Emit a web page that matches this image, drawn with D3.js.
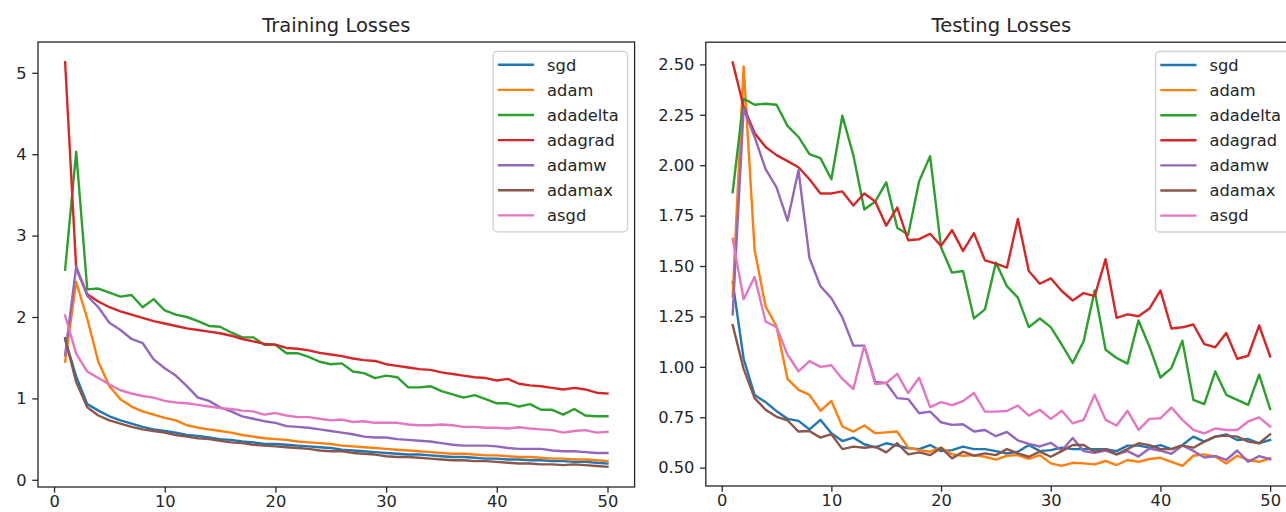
<!DOCTYPE html>
<html>
<head>
<meta charset="utf-8">
<script src="https://cdn.jsdelivr.net/npm/d3@7"></script>
<style>
  html, body { margin: 0; padding: 0; background: #ffffff; }
  svg { display: block; font-family: "DejaVu Sans", sans-serif; }
</style>
</head>
<body>
<svg id="chart" width="1286" height="512"></svg>
<script>
// ---------- data ----------
const epochs = [1,2,3,4,5,6,7,8,9,10,11,12,13,14,15,16,17,18,19,20,21,22,23,24,25,26,27,28,29,30,31,32,33,34,35,36,37,38,39,40,41,42,43,44,45,46,47,48,49,50];
const seriesNames = ["sgd", "adam", "adadelta", "adagrad", "adamw", "adamax", "asgd"];
const seriesColors = ["#1f77b4", "#ff7f0e", "#2ca02c", "#d62728", "#9467bd", "#8c564b", "#e377c2"];

const xTicks = [0, 10, 20, 30, 40, 50];
const trainYTicks = [0, 1, 2, 3, 4, 5];
const testYTicks = [0.50, 0.75, 1.00, 1.25, 1.50, 1.75, 2.00, 2.25, 2.50];

// Training losses
const trainSgd = [1.72,1.27,0.93,0.85,0.78,0.73,0.69,0.65,0.62,0.60,0.58,0.55,0.54,0.52,0.50,0.49,0.47,0.46,0.44,0.44,0.43,0.42,0.41,0.40,0.39,0.37,0.36,0.35,0.34,0.33,0.32,0.31,0.31,0.30,0.29,0.28,0.28,0.27,0.26,0.26,0.25,0.25,0.24,0.24,0.23,0.23,0.22,0.22,0.21,0.20];
const trainAdam = [1.45,2.43,1.98,1.45,1.15,0.99,0.90,0.84,0.80,0.76,0.73,0.67,0.64,0.62,0.60,0.58,0.55,0.53,0.51,0.50,0.49,0.47,0.46,0.45,0.44,0.42,0.41,0.40,0.39,0.38,0.37,0.36,0.35,0.34,0.33,0.32,0.32,0.31,0.30,0.30,0.29,0.28,0.28,0.27,0.26,0.26,0.25,0.25,0.24,0.23];
const trainAdadelta = [2.58,4.03,2.34,2.35,2.30,2.25,2.27,2.12,2.22,2.08,2.03,2.00,1.95,1.89,1.88,1.81,1.75,1.75,1.66,1.66,1.555,1.555,1.51,1.45,1.42,1.43,1.33,1.31,1.25,1.28,1.26,1.135,1.135,1.15,1.09,1.05,1.01,1.04,0.99,0.94,0.94,0.90,0.93,0.86,0.86,0.80,0.87,0.79,0.78,0.78];
const trainAdagrad = [5.13,2.60,2.28,2.19,2.12,2.07,2.03,1.99,1.95,1.92,1.89,1.86,1.84,1.82,1.80,1.77,1.73,1.70,1.67,1.66,1.62,1.61,1.59,1.56,1.54,1.52,1.49,1.47,1.46,1.42,1.40,1.38,1.36,1.35,1.32,1.30,1.28,1.26,1.25,1.22,1.24,1.18,1.16,1.15,1.13,1.11,1.13,1.11,1.07,1.06];
const trainAdamw = [1.53,2.62,2.26,2.12,1.93,1.84,1.73,1.68,1.48,1.37,1.28,1.15,1.01,0.97,0.89,0.84,0.78,0.75,0.72,0.70,0.66,0.65,0.64,0.62,0.60,0.58,0.56,0.53,0.52,0.52,0.50,0.49,0.48,0.47,0.45,0.43,0.42,0.42,0.42,0.41,0.39,0.38,0.38,0.38,0.36,0.35,0.35,0.34,0.33,0.33];
const trainAdamax = [1.74,1.20,0.89,0.79,0.73,0.69,0.65,0.62,0.60,0.58,0.55,0.53,0.51,0.50,0.48,0.46,0.45,0.43,0.42,0.41,0.40,0.39,0.38,0.36,0.35,0.35,0.33,0.32,0.31,0.29,0.28,0.28,0.27,0.26,0.25,0.24,0.24,0.23,0.23,0.22,0.21,0.20,0.20,0.19,0.19,0.18,0.19,0.18,0.17,0.16];
const trainAsgd = [2.02,1.55,1.33,1.25,1.17,1.10,1.06,1.03,1.01,0.97,0.95,0.94,0.92,0.90,0.88,0.87,0.85,0.84,0.80,0.82,0.79,0.77,0.77,0.75,0.73,0.74,0.71,0.72,0.70,0.70,0.70,0.68,0.67,0.67,0.68,0.67,0.65,0.65,0.64,0.64,0.63,0.645,0.63,0.62,0.61,0.58,0.60,0.61,0.58,0.59];

// Testing losses
const testSgd = [1.42,1.04,0.86,0.825,0.78,0.742,0.732,0.69,0.737,0.671,0.632,0.649,0.616,0.60,0.621,0.609,0.596,0.592,0.612,0.582,0.587,0.604,0.592,0.592,0.582,0.57,0.579,0.612,0.582,0.587,0.599,0.592,0.592,0.592,0.592,0.582,0.609,0.609,0.599,0.612,0.592,0.612,0.654,0.629,0.654,0.665,0.637,0.642,0.621,0.637];
const testAdam = [1.35,2.49,1.58,1.30,1.20,0.94,0.886,0.861,0.782,0.831,0.704,0.679,0.709,0.671,0.675,0.679,0.599,0.587,0.579,0.599,0.566,0.559,0.562,0.554,0.54,0.559,0.562,0.543,0.562,0.521,0.509,0.524,0.521,0.516,0.533,0.513,0.538,0.529,0.543,0.549,0.529,0.509,0.559,0.566,0.554,0.521,0.559,0.538,0.529,0.546];
const testAdadelta = [1.866,2.33,2.30,2.305,2.30,2.195,2.14,2.055,2.035,1.93,2.245,2.05,1.78,1.82,1.915,1.69,1.655,1.92,2.045,1.592,1.467,1.475,1.24,1.285,1.517,1.40,1.343,1.197,1.24,1.197,1.11,1.019,1.127,1.379,1.085,1.044,1.016,1.23,1.10,0.947,0.994,1.13,0.836,0.815,0.977,0.861,0.836,0.811,0.961,0.791];
const testAdagrad = [2.51,2.29,2.16,2.09,2.05,2.02,1.99,1.93,1.86,1.86,1.87,1.80,1.86,1.82,1.70,1.79,1.628,1.633,1.66,1.60,1.678,1.575,1.663,1.528,1.512,1.492,1.733,1.475,1.412,1.439,1.376,1.329,1.366,1.351,1.534,1.243,1.26,1.251,1.289,1.379,1.19,1.196,1.21,1.113,1.097,1.168,1.04,1.055,1.205,1.052];
const testAdamw = [1.26,2.28,2.14,1.98,1.89,1.725,1.975,1.54,1.40,1.34,1.245,1.105,1.105,0.925,0.92,0.845,0.84,0.77,0.778,0.725,0.712,0.715,0.679,0.687,0.656,0.677,0.635,0.618,0.605,0.623,0.585,0.647,0.582,0.573,0.585,0.566,0.582,0.555,0.595,0.584,0.569,0.61,0.583,0.55,0.558,0.538,0.585,0.529,0.557,0.542];
const testAdamax = [1.207,0.99,0.845,0.787,0.752,0.735,0.679,0.682,0.649,0.666,0.592,0.604,0.599,0.604,0.576,0.621,0.566,0.576,0.562,0.599,0.546,0.579,0.559,0.571,0.562,0.592,0.571,0.554,0.579,0.554,0.582,0.612,0.612,0.579,0.592,0.566,0.592,0.621,0.612,0.592,0.592,0.609,0.599,0.629,0.654,0.659,0.654,0.629,0.621,0.665];
const testAsgd = [1.635,1.335,1.446,1.225,1.197,1.06,0.978,1.028,1.00,1.008,0.94,0.89,1.105,0.915,0.92,0.965,0.87,0.946,0.80,0.825,0.81,0.83,0.87,0.778,0.778,0.781,0.808,0.758,0.787,0.742,0.782,0.72,0.737,0.861,0.737,0.709,0.782,0.687,0.742,0.745,0.798,0.737,0.687,0.67,0.695,0.687,0.687,0.729,0.749,0.704];

const trainSeries = [trainSgd, trainAdam, trainAdadelta, trainAdagrad, trainAdamw, trainAdamax, trainAsgd];
const testSeries = [testSgd, testAdam, testAdadelta, testAdagrad, testAdamw, testAdamax, testAsgd];

// ---------- drawing ----------
const svg = d3.select("#chart");
const TICK = 5.7, PAD = 5.7, XPAD = 2.8;
const tickFont = 16.3, titleFont = 19.5, legendFont = 16.3;
const ink = "#262626";

function panel(opts) {
  const { left, right, top, bottom, title, series, yTicks, yFmt } = opts;
  const g = svg.append("g");

  const xMin = d3.min(epochs), xMax = d3.max(epochs);
  const xm = (xMax - xMin) * 0.05;
  const x = d3.scaleLinear().domain([xMin - xm, xMax + xm]).range([left, right]);

  const allVals = series.flat();
  const yMin = d3.min(allVals), yMax = d3.max(allVals);
  const ym = (yMax - yMin) * 0.05;
  const y = d3.scaleLinear().domain([yMin - ym, yMax + ym]).range([bottom, top]);

  // clip
  const clipId = "clip-" + title.replace(/\s/g, "");
  svg.append("clipPath").attr("id", clipId)
    .append("rect").attr("x", left).attr("y", top)
    .attr("width", right - left).attr("height", bottom - top);

  // lines
  const line = d3.line().x((d, i) => x(epochs[i])).y(d => y(d));
  const lg = g.append("g").attr("clip-path", `url(#${clipId})`);
  series.forEach((s, i) => {
    lg.append("path")
      .datum(s)
      .attr("d", line)
      .attr("fill", "none")
      .attr("stroke", seriesColors[i])
      .attr("stroke-width", 2.4)
      .attr("stroke-linejoin", "round")
      .attr("stroke-linecap", "square");
  });

  // axes
  const xAxis = d3.axisBottom(x).tickValues(xTicks).tickSize(TICK).tickPadding(XPAD).tickFormat(d3.format("d"));
  const yAxis = d3.axisLeft(y).tickValues(yTicks).tickSize(TICK).tickPadding(PAD).tickFormat(yFmt);

  const gx = g.append("g").attr("transform", `translate(0,${bottom})`).call(xAxis);
  const gy = g.append("g").attr("transform", `translate(${left},0)`).call(yAxis);
  [gx, gy].forEach(a => {
    a.select(".domain").remove();
    a.selectAll(".tick line").attr("stroke", ink).attr("stroke-width", 1.3);
    a.selectAll(".tick text").attr("fill", ink)
      .style("font-family", "'DejaVu Sans', sans-serif")
      .style("font-size", tickFont + "px");
  });

  // frame
  g.append("rect")
    .attr("x", left).attr("y", top)
    .attr("width", right - left).attr("height", bottom - top)
    .attr("fill", "none").attr("stroke", ink).attr("stroke-width", 1.3);

  // title
  g.append("text")
    .attr("x", (left + right) / 2).attr("y", top - 10)
    .attr("text-anchor", "middle")
    .attr("fill", ink)
    .style("font-size", titleFont + "px")
    .text(title);

  // legend
  const lgLeft = right - 141.5, lgTop = top + 9.3;
  const rowH = 25.1;
  const leg = g.append("g");
  leg.append("rect")
    .attr("x", lgLeft).attr("y", lgTop)
    .attr("width", 134.4).attr("height", 180.5)
    .attr("rx", 4).attr("ry", 4)
    .attr("fill", "#ffffff").attr("fill-opacity", 0.8)
    .attr("stroke", "#d0d0d0").attr("stroke-width", 1.3);
  seriesNames.forEach((name, i) => {
    const cy = lgTop + 13.5 + i * rowH;
    leg.append("line")
      .attr("x1", lgLeft + 4.8).attr("x2", lgLeft + 41)
      .attr("y1", cy).attr("y2", cy)
      .attr("stroke", seriesColors[i]).attr("stroke-width", 2.4);
    leg.append("text")
      .attr("x", lgLeft + 54).attr("y", cy)
      .attr("dy", "0.35em")
      .attr("fill", ink)
      .style("font-size", legendFont + "px")
      .text(name);
  });
}

panel({
  left: 38, right: 634.6, top: 42, bottom: 487,
  title: "Training Losses",
  series: trainSeries,
  yTicks: trainYTicks,
  yFmt: d3.format("d")
});

panel({
  left: 705.8, right: 1297, top: 42.2, bottom: 486,
  title: "Testing Losses",
  series: testSeries,
  yTicks: testYTicks,
  yFmt: d3.format(".2f")
});
</script>
</body>
</html>
